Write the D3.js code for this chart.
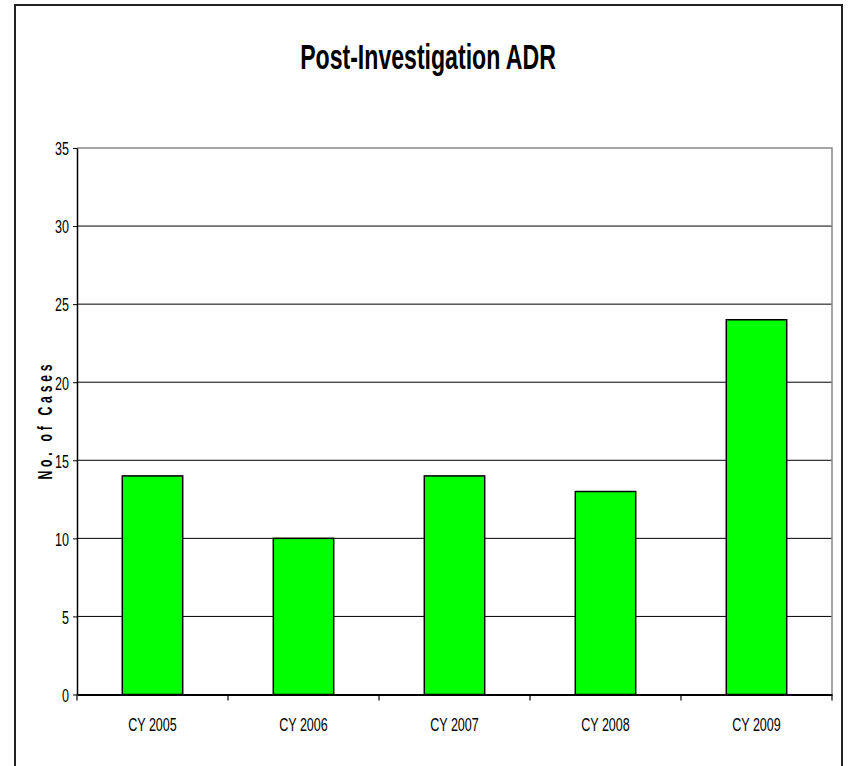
<!DOCTYPE html>
<html>
<head>
<meta charset="utf-8">
<script src="https://cdn.jsdelivr.net/npm/d3@7"></script>
<style>
  body { margin: 0; background: #fff; }
  svg text { font-family: "Liberation Sans", Arial, sans-serif; fill: #000; }
</style>
</head>
<body>
<svg id="chart" width="848" height="766"></svg>
<script>
// datos
let categorias = ["CY 2005", "CY 2006", "CY 2007", "CY 2008", "CY 2009"];
let casos = [14, 10, 14, 13, 24];
let yticks = [0, 5, 10, 15, 20, 25, 30, 35];

// la fuente original es estrecha: se comprime en horizontal
let sx = 0.66;

let svg = d3.select("#chart");

// marco exterior
svg.append("path")
    .attr("d", "M15,770 L15,5 L842,5 L842,770")
    .style("fill", "none")
    .style("stroke", "#222")
    .style("stroke-width", 2);

svg.append("text")
    .attr("transform", `translate(428,69) scale(${sx},1)`)
    .text("Post-Investigation ADR")
    .style("text-anchor", "middle")
    .style("font-size", "35px")
    .style("font-weight", "bold");

let margin = {left: 77, top: 148, right: 832, bottom: 694.5};

let xscale = d3.scaleBand()
    .domain(categorias)
    .range([margin.left, margin.right])
    .paddingInner(0.6)
    .paddingOuter(0.3);

let xcat = d3.scaleBand()
    .domain(categorias)
    .range([margin.left, margin.right]);

let yscale = d3.scaleLinear()
    .domain([0, 35])
    .range([margin.bottom, margin.top]);

// lineas de la rejilla
svg.selectAll(".grid")
    .data(yticks.filter(d => d > 0 && d < 35))
    .enter()
    .append("line")
    .attr("class", "grid")
    .attr("x1", margin.left)
    .attr("x2", margin.right)
    .attr("y1", d => yscale(d))
    .attr("y2", d => yscale(d))
    .style("stroke", "#000")
    .style("stroke-width", 1);

// borde superior y derecho en gris
svg.append("path")
    .attr("d", `M${margin.left},${yscale(35)} L${margin.right},${yscale(35)} L${margin.right},${margin.bottom}`)
    .style("fill", "none")
    .style("stroke", "#888")
    .style("stroke-width", 1.5);

svg.selectAll(".barra")
    .data(casos)
    .enter()
    .append("rect")
    .attr("class", "barra")
    .attr("x", (d, i) => xscale(categorias[i]))
    .attr("y", d => yscale(d))
    .attr("width", xscale.bandwidth())
    .attr("height", d => yscale(0) - yscale(d))
    .style("fill", "#00FF00")
    .style("stroke", "#000")
    .style("stroke-width", 1.5);

// eje y
let yaxis = d3.axisLeft(yscale)
    .tickValues(yticks)
    .tickSize(4)
    .tickSizeOuter(0);

let gy = svg.append("g")
    .attr("transform", `translate(${margin.left},0)`)
    .call(yaxis);
gy.select(".domain").style("stroke", "#000").style("stroke-width", 1.5);
gy.selectAll(".tick line").style("stroke", "#000");
gy.selectAll(".tick text")
    .attr("x", -8 / sx)
    .attr("dy", "0.36em")
    .attr("transform", `scale(${sx},1)`)
    .style("font-size", "19px");

// eje x
let xaxis = d3.axisBottom(xcat)
    .tickSize(0)
    .tickSizeOuter(0);

let gx = svg.append("g")
    .attr("transform", `translate(0,${margin.bottom})`)
    .call(xaxis);
gx.select(".domain").style("stroke", "#000").style("stroke-width", 2);
gx.selectAll(".tick text")
    .attr("y", 37)
    .attr("dy", 0)
    .attr("transform", `scale(${sx},1)`)
    .style("font-size", "19px");

// marcas entre categorias
svg.selectAll(".xtick")
    .data(categorias.concat(["fin"]))
    .enter()
    .append("line")
    .attr("class", "xtick")
    .attr("x1", (d, i) => i < categorias.length ? xcat(d) : margin.right)
    .attr("x2", (d, i) => i < categorias.length ? xcat(d) : margin.right)
    .attr("y1", margin.bottom)
    .attr("y2", margin.bottom + 6)
    .style("stroke", "#000")
    .style("stroke-width", 1.2);

// titulo del eje y, letras estrechas y espaciadas
svg.append("text")
    .attr("transform", "translate(52,422) rotate(-90) scale(0.58,1)")
    .text("No. of Cases")
    .attr("textLength", 198)
    .attr("lengthAdjust", "spacing")
    .style("text-anchor", "middle")
    .style("font-size", "21px")
    .style("font-weight", "bold");
</script>
</body>
</html>
